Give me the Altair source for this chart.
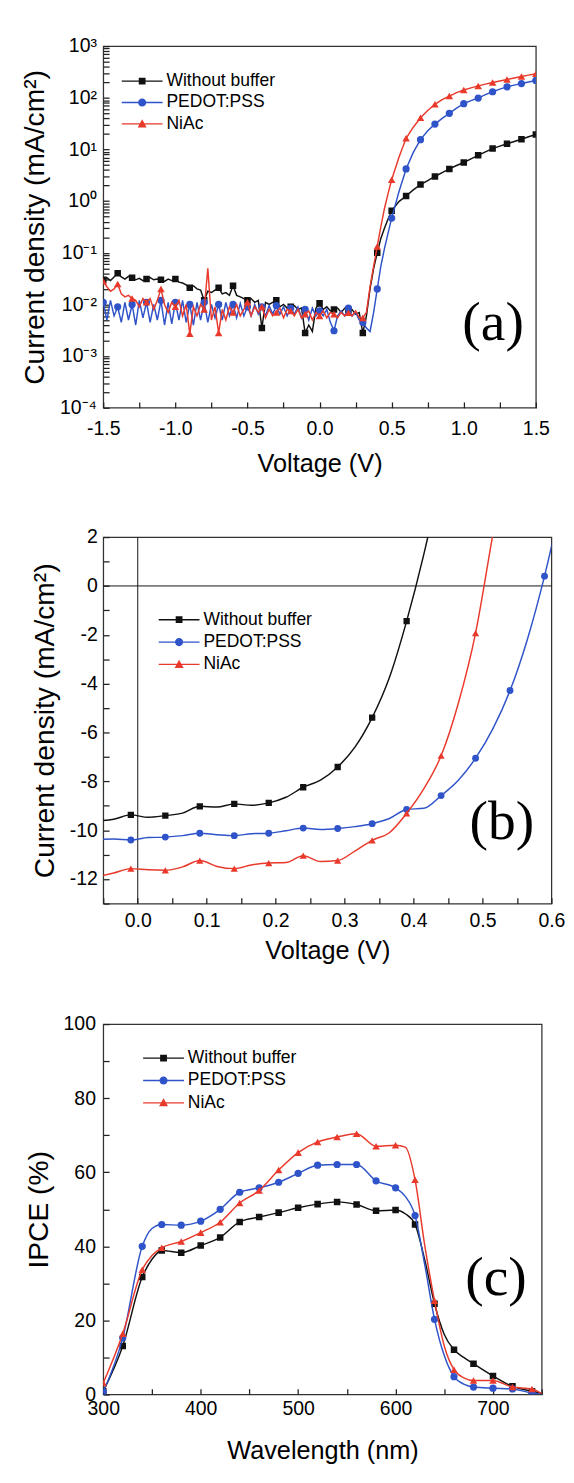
import altair as alt
import pandas as pd

FONT = "Liberation Sans"
SERIF = "Liberation Serif"

SERIES = ["Without buffer", "PEDOT:PSS", "NiAc"]
COLORS = ["#111111", "#2f53c9", "#e8392b"]
MARKERS = ["square", "circle", "triangle-up"]

# ---------------- panel (a): log J-V in the dark ----------------
A_V_NOISE = [round(-1.5 + 0.025 * i, 3) for i in range(73)]
A_V_RISE = [0.325, 0.35, 0.375, 0.4, 0.425, 0.45, 0.475, 0.5, 0.55, 0.6, 0.65, 0.7,
            0.75, 0.8, 0.85, 0.9, 0.95, 1.0, 1.05, 1.1, 1.15, 1.2, 1.25, 1.3, 1.35,
            1.4, 1.45, 1.5]
A_BLACK = [0.030, 0.033, 0.029, 0.034, 0.040, 0.034, 0.031, 0.035,
           0.033, 0.030, 0.032, 0.029, 0.031, 0.033, 0.030, 0.031,
           0.030, 0.028, 0.031, 0.029, 0.031, 0.027, 0.026, 0.024,
           0.021, 0.023, 0.020, 0.019, 0.012, 0.018, 0.017, 0.019,
           0.021, 0.016, 0.017, 0.015, 0.023, 0.015, 0.014, 0.013,
           0.012, 0.013, 0.011, 0.012, 0.0035, 0.011, 0.010, 0.011,
           0.012, 0.009, 0.010, 0.0085, 0.009, 0.0095, 0.008, 0.0085,
           0.0028, 0.004, 0.003, 0.0085, 0.0105, 0.008, 0.009, 0.0075,
           0.008, 0.0085, 0.007, 0.0085, 0.0078, 0.008, 0.0065, 0.007,
           0.0028,
           0.006, 0.02, 0.05, 0.1, 0.19, 0.3, 0.45, 0.65, 0.98, 1.26, 1.65, 2.1,
           2.5, 3.0, 3.55, 4.2, 4.9, 5.6, 6.6, 7.7, 9.0, 10.4, 11.6, 12.9, 14.3,
           15.8, 17.6, 19.5]
A_BLUE = [0.011, 0.005, 0.012, 0.006, 0.009, 0.0045, 0.011, 0.005,
          0.010, 0.004, 0.012, 0.0055, 0.011, 0.0045, 0.010, 0.005,
          0.012, 0.004, 0.011, 0.0042, 0.011, 0.005, 0.012, 0.0045,
          0.010, 0.004, 0.011, 0.005, 0.011, 0.0045, 0.010, 0.0055,
          0.010, 0.005, 0.011, 0.006, 0.010, 0.0055, 0.0105, 0.006,
          0.009, 0.006, 0.010, 0.0065, 0.009, 0.006, 0.0095, 0.0065,
          0.0095, 0.0065, 0.009, 0.006, 0.0085, 0.0065, 0.009, 0.0055,
          0.008, 0.005, 0.0085, 0.006, 0.0075, 0.006, 0.008, 0.0045,
          0.0031, 0.006, 0.0075, 0.006, 0.0085, 0.006, 0.007, 0.005,
          0.0045,
          0.0035, 0.003, 0.007, 0.02, 0.055, 0.12, 0.24, 0.47, 1.5, 4.2, 8.8, 15.5,
          23, 31, 40, 50, 63, 77, 88, 99, 115, 131, 147, 163, 176,
          189, 203, 217]
A_RED = [0.028, 0.022, 0.018, 0.020, 0.025, 0.016, 0.014, 0.015,
         0.013, 0.012, 0.009, 0.013, 0.011, 0.013, 0.008, 0.012,
         0.020, 0.010, 0.007, 0.011, 0.009, 0.012, 0.006, 0.010,
         0.0027, 0.009, 0.006, 0.010, 0.008, 0.050, 0.005, 0.009,
         0.0028, 0.008, 0.005, 0.009, 0.007, 0.010, 0.006, 0.008,
         0.011, 0.006, 0.009, 0.007, 0.009, 0.0055, 0.008, 0.006,
         0.007, 0.0085, 0.0055, 0.008, 0.0075, 0.006, 0.008, 0.0055,
         0.0065, 0.0075, 0.005, 0.007, 0.006, 0.0075, 0.0055, 0.007,
         0.0065, 0.0055, 0.007, 0.006, 0.0069, 0.006, 0.0075, 0.0055,
         0.0055,
         0.007, 0.022, 0.055, 0.133, 0.32, 0.72, 1.4, 2.6, 7.0, 16.5, 27, 41,
         57, 75, 92, 108, 126, 142, 156, 170, 184, 198, 212, 226, 242,
         258, 275, 292]

# ---------------- panel (b): J-V under illumination ----------------
B_V = [round(-0.06 + 0.025 * i, 3) for i in range(28)]
B_BLACK = [-9.62, -9.55, -9.37, -9.47, -9.40, -9.30, -9.02, -9.05, -8.92, -8.98,
           -8.88, -8.65, -8.24, -7.95, -7.41, -6.6, -5.39, -3.75, -1.44, 1.3, 4.5]
B_BLUE = [-10.38, -10.36, -10.40, -10.30, -10.28, -10.22, -10.12, -10.18, -10.22,
          -10.14, -10.12, -10.02, -9.91, -9.97, -9.93, -9.85, -9.73, -9.52, -9.15,
          -9.1, -8.58, -7.95, -7.05, -5.85, -4.28, -2.2, 0.40, 3.5]
B_RED = [-11.92, -11.75, -11.57, -11.62, -11.64, -11.5, -11.24, -11.48, -11.57,
         -11.42, -11.34, -11.32, -11.04, -11.28, -11.24, -10.85, -10.41, -10.1,
         -9.31, -8.3, -6.95, -4.8, -1.93, 2.1, 6.0]
B_ZERO = [0.0]

# ---------------- panel (c): IPCE ----------------
C_WL = [300, 320, 340, 350, 360, 380, 400, 420, 440, 460, 480, 500, 520, 540, 560,
        580, 600, 610, 620, 630, 640, 650, 660, 670, 680, 700, 720, 740, 750]
C_BLACK = [0.9, 13.1, 31.7, 36.5, 38.9, 38.3, 40.2, 42.4, 46.6, 47.9, 49.1, 50.4,
           51.4, 52.0, 51.3, 49.6, 49.8, 48.8, 45.9, 36.3, 24.5, 16.2, 12.1, 10.0,
           8.3, 5.0, 2.2, 0.9, 0.3]
C_BLUE = [0.7, 15.3, 40.0, 44.8, 45.9, 45.7, 46.8, 50.0, 54.6, 55.8, 57.3, 59.7,
          61.9, 62.1, 62.1, 57.7, 55.8, 53.5, 48.3, 35.0, 20.3, 10.5, 4.8, 2.8,
          2.0, 1.7, 1.5, 0.4, 0.1]
C_RED = [3.1, 16.4, 33.7, 37.5, 39.6, 41.3, 43.7, 46.5, 51.7, 55.1, 60.6, 65.3,
         68.2, 69.5, 70.4, 67.0, 67.3, 66.8, 58.0, 40.2, 25.3, 13.1, 6.7, 4.5,
         3.8, 3.8, 2.0, 1.5, 0.2]

# legend symbols: line segment + marker (drawn with fill only)
SEG = "M-2.1,-0.07H2.1V0.07H-2.1Z"
LEGEND_PATHS = [
    SEG + "M-0.35,-0.35H0.35V0.35H-0.35Z",
    SEG + "M-0.42,0A0.42,0.42,0,1,1,0.42,0A0.42,0.42,0,1,1,-0.42,0Z",
    SEG + "M0,-0.48L0.46,0.36L-0.46,0.36Z",
]


def long_df(xs_list, ys_lists, is_marker):
    rows = []
    for s, ys in zip(SERIES, ys_lists):
        for x, y in zip(xs_list, ys):
            rows.append({"x": x, "y": y, "s": s, "m": 1 if is_marker(x) else 0})
    return pd.DataFrame(rows)


def ax(values, label_expr, title, lp, tp, title_size):
    return alt.Axis(values=values, labelExpr=label_expr, title=title, grid=False,
                    domain=False, ticks=True, tickSize=6, offset=-6, tickColor="#222",
                    tickWidth=1.3, labelPadding=lp, titlePadding=tp, labelFont=FONT,
                    labelFontSize=20, labelColor="black", titleFont=FONT,
                    titleFontSize=title_size, titleFontWeight="normal",
                    titleColor="black", labelOverlap=False, labelFlush=False)


def legend(lx, ly, rp):
    return alt.Legend(title=None, orient="none", legendX=lx, legendY=ly,
                      direction="vertical", labelFont=FONT, labelFontSize=18,
                      labelColor="black", symbolSize=400, symbolStrokeWidth=0,
                      symbolOpacity=1, rowPadding=rp, labelOffset=15, padding=0,
                      labelLimit=400)


def panel(df, X, Y, interp, w, h, leg, tag, tag_xy, sizes, extra=()):
    layers = list(extra)
    for s, c, shp, sz in zip(SERIES, COLORS, MARKERS, sizes):
        base = alt.Chart(df).transform_filter(alt.datum.s == s)
        layers.append(base.mark_line(color=c, strokeWidth=1.5, interpolate=interp,
                                     clip=True).encode(x=X, y=Y))
        layers.append(base.transform_filter(alt.datum.m == 1).mark_point(
            shape=shp, size=sz, filled=True, opacity=1, color=c, clip=True
        ).encode(x=X, y=Y))
    leg_layer = alt.Chart(pd.DataFrame({"s": SERIES})).transform_filter("false").mark_point(
        filled=True, opacity=1, size=400
    ).encode(
        color=alt.Color("s:N", scale=alt.Scale(domain=SERIES, range=COLORS), legend=leg),
        shape=alt.Shape("s:N", scale=alt.Scale(domain=SERIES, range=LEGEND_PATHS), legend=leg),
    )
    layers.append(leg_layer)
    txt = alt.Chart(pd.DataFrame({"t": [tag]})).mark_text(
        font=SERIF, fontSize=57, color="black", align="center", baseline="middle"
    ).encode(text="t:N", x=alt.value(tag_xy[0]), y=alt.value(tag_xy[1]))
    layers.append(txt)
    return alt.layer(*layers).properties(width=w, height=h)


HYPH = "replace(format(datum.value, '.1f'), '\u2212', '-')"

# ---- (a)
dfa = long_df(A_V_NOISE + A_V_RISE, [A_BLACK, A_BLUE, A_RED],
              lambda v: abs(v * 10 - round(v * 10)) < 1e-6)
a_xvals = [round(-1.5 + 0.25 * i, 2) for i in range(13)]
a_major = [10.0 ** k for k in range(-4, 4)]
a_yvals = sorted(a_major + [m * 10.0 ** k for k in range(-4, 3) for m in range(2, 10)])
SUP = {3: "\u00b3", 2: "\u00b2", 1: "\u00b9", 0: "\u2070", -1: "\u207b\u00b9",
       -2: "\u207b\u00b2", -3: "\u207b\u00b3", -4: "\u207b\u2074"}
E = "round(log(datum.value)/LN10)"
a_ylab = (f"abs(log(datum.value)/LN10 - {E}) > 0.01 ? '' : "
          + " : ".join(f"{E} == {k} ? '10{v}'" for k, v in SUP.items()) + " : ''")
XA = alt.X("x:Q", scale=alt.Scale(domain=[-1.5, 1.5], nice=False, zero=False),
           axis=ax(a_xvals, f"abs(datum.value*2 - round(datum.value*2)) < 0.001 ? {HYPH} : ''",
                   "Voltage (V)", 11, 14, 26))
YA = alt.Y("y:Q", scale=alt.Scale(type="log", domain=[1e-4, 1e3], nice=False),
           axis=ax(a_yvals, a_ylab, "Current density (mA/cm\u00b2)", 7, 11, 29))
pa = panel(dfa, XA, YA, "linear", 445, 372, legend(30, 26, 3), "(a)", (401, 285),
           [45, 55, 60])

# ---- (b)
dfb = long_df(B_V, [B_BLACK, B_BLUE, B_RED],
              lambda v: abs((v + 0.01) / 0.05 - round((v + 0.01) / 0.05)) < 1e-6)
b_xvals = [round(-0.05 + 0.05 * i, 2) for i in range(14)]
b_yvals = list(range(-13, 3))
XB = alt.X("x:Q", scale=alt.Scale(domain=[-0.05, 0.6], nice=False, zero=False),
           axis=ax(b_xvals, f"abs(datum.value*10 - round(datum.value*10)) < 0.001 ? {HYPH} : ''",
                   "Voltage (V)", 8, 8, 26))
YB = alt.Y("y:Q", scale=alt.Scale(domain=[-13, 2], nice=False, zero=False),
           axis=ax(b_yvals, "datum.value % 2 == 0 ? replace(format(datum.value, 'd'), '\u2212', '-') : ''",
                   "Current density (mA/cm\u00b2)", 6, 10, 29))
zero_v = alt.Chart(pd.DataFrame({"x": B_ZERO})).mark_rule(color="#111", strokeWidth=1).encode(x=XB)
zero_h = alt.Chart(pd.DataFrame({"y": B_ZERO})).mark_rule(color="#111", strokeWidth=1).encode(y=YB)
pb = panel(dfb, XB, YB, "monotone", 461, 377, legend(68, 75, 4), "(b)", (410, 294),
           [42, 50, 55], extra=(zero_v, zero_h))

# ---- (c)
dfc = long_df(C_WL, [C_BLACK, C_BLUE, C_RED], lambda w: w % 20 == 0 and w <= 740)
XC = alt.X("x:Q", scale=alt.Scale(domain=[300, 750], nice=False, zero=False),
           axis=ax(list(range(300, 751, 50)), "datum.value % 100 == 0 ? format(datum.value, 'd') : ''",
                   "Wavelength (nm)", 5, 20, 26))
YC = alt.Y("y:Q", scale=alt.Scale(domain=[0, 100], nice=False, zero=False),
           axis=ax(list(range(0, 101, 10)), "datum.value % 20 == 0 ? format(datum.value, 'd') : ''",
                   "IPCE (%)", 8, 10, 29))
pc = panel(dfc, XC, YC, "monotone", 451, 381, legend(52, 25, 4), "(c)", (404, 262),
           [45, 55, 60])

chart = alt.concat(pa, pb, pc, columns=1, spacing=50, align="none").resolve_scale(
    color="independent", shape="independent"
).configure_view(stroke="#333", strokeWidth=1.3).properties(
    padding={"left": 12, "top": 7, "right": 0, "bottom": 5}, background="white"
)

chart.save("out.html", embed_options={"renderer": "svg", "actions": False})
